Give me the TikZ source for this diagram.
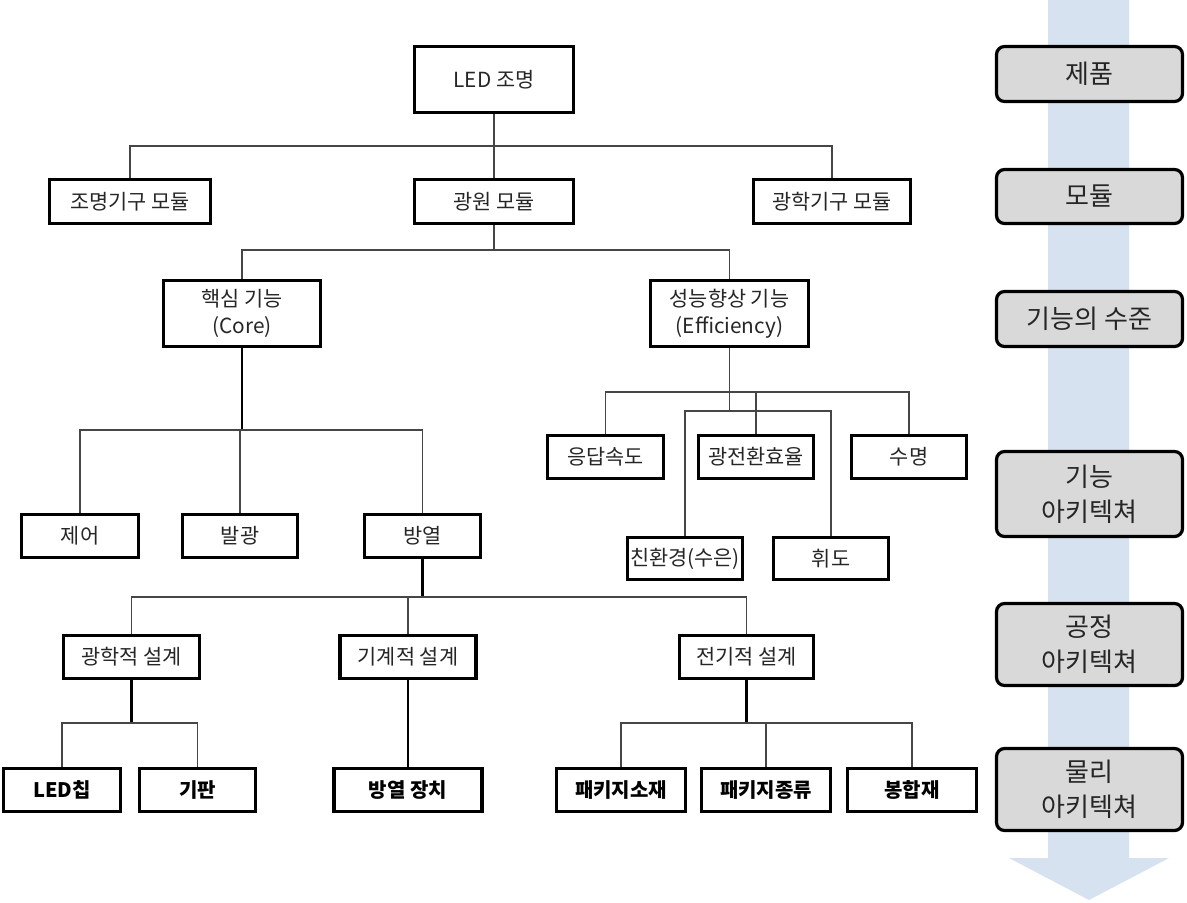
\documentclass[tikz,border=0pt]{standalone}
\usepackage{fontspec}
\newfontfamily\kr{Noto Sans CJK KR}
\definecolor{arrowblue}{RGB}{214,226,240}
\definecolor{boxgray}{RGB}{217,217,217}
\definecolor{linegray}{RGB}{70,70,70}
\begin{document}
\begin{tikzpicture}[x=0.5pt,y=-0.5pt,
  sz/.style 2 args={minimum width=#1*0.5pt-1.5pt, minimum height=#2*0.5pt-1.5pt},
  box/.style={draw=black, line width=1.7pt, fill=white, inner sep=0pt, align=center,
    text=black!85, font=\kr\fontsize{10.4}{13.5}\selectfont},
  bbox/.style={box, font=\kr\bfseries\fontsize{10}{12}\selectfont, text=black},
  side/.style={draw=black, line width=1.6pt, fill=boxgray, rounded corners=4pt, inner sep=0pt,
    align=center, text=black!85, font=\kr\fontsize{13}{17.5}\selectfont, sz={189}{#1}},
  conn/.style={draw=linegray, line width=0.75pt},
  tconn/.style={draw=black, line width=1.2pt}]
\useasboundingbox (0,0) rectangle (1187,902);

% background arrow
\fill[arrowblue] (1048,0) -- (1129,0) -- (1129,858) -- (1169,858) -- (1089,900)
  -- (1009,858) -- (1048,858) -- cycle;

% side labels
\node[side=58] (r1) at (1089.5,74) {제품};
\node[side=57] (r2) at (1089.5,196.5) {모듈};
\node[side=58] (r3) at (1089.5,319) {기능의 수준};
\node[side=88] (r4) at (1089.5,494) {기능\\아키텍쳐};
\node[side=85] (r5) at (1089.5,644.5) {공정\\아키텍쳐};
\node[side=85] (r6) at (1089.5,789.5) {물리\\아키텍쳐};

% junctions
\coordinate (j1) at (494,146);
\coordinate (j2) at (494,250);
\coordinate (j3) at (729.5,392);
\coordinate (j4) at (729.5,411);
\coordinate (j5) at (242,430);
\coordinate (j6) at (422.5,597);
\coordinate (j7) at (131.5,723);
\coordinate (j8) at (746.5,723);

% nodes
\node[box, sz={162}{69}] (led) at (494,79.5) {LED 조명};
\node[box, sz={164}{47}] (mod1) at (130,201.5) {조명기구 모듈};
\node[box, sz={162}{47}] (mod2) at (494,201.5) {광원 모듈};
\node[box, sz={160}{47}] (mod3) at (832,201.5) {광학기구 모듈};
\node[box, sz={160}{69}] (core) at (242,313.5) {핵심 기능\\(Core)};
\node[box, sz={161}{69}] (eff) at (729.5,313.5) {성능향상 기능\\(Efficiency)};
\node[box, sz={119}{46}] (f1) at (605.5,457) {응답속도};
\node[box, sz={118}{46}] (f2) at (756,457) {광전환효율};
\node[box, sz={118}{46}] (f3) at (909,457) {수명};
\node[box, sz={118}{45}] (f4) at (685,558.5) {친환경(수은)};
\node[box, sz={118}{45}] (f5) at (831,558.5) {휘도};
\node[box, sz={120}{46}] (c1) at (80,536) {제어};
\node[box, sz={118}{46}] (c2) at (240,536) {발광};
\node[box, sz={119}{46}] (c3) at (422.5,536) {방열};
\node[box, sz={139}{46}] (p1) at (131.5,657) {광학적 설계};
\node[box, sz={139}{46}] (p2) at (408,657) {기계적 설계};
\node[box, sz={137}{46}] (p3) at (746.5,657) {전기적 설계};
\node[bbox, sz={120}{46}] (b1) at (62,790) {LED칩};
\node[bbox, sz={119}{46}] (b2) at (197.5,790) {기판};
\node[bbox, sz={151}{46}] (b3) at (408,790) {방열 장치};
\node[bbox, sz={132}{46}] (b4) at (621,790) {패키지소재};
\node[bbox, sz={132}{46}] (b5) at (766,790) {패키지종류};
\node[bbox, sz={132}{46}] (b6) at (912,790) {봉합재};

% connectors
\draw[conn] (led.south) -- (mod2.north);
\draw[conn] (mod1.north) |- (j1) -| (mod3.north);
\draw[conn] (mod2.south) -- (j2);
\draw[conn] (core.north) |- (j2) -| (eff.north);

\draw[conn] (eff.south) -- (j4);
\draw[conn] (f1.north) |- (j3) -| (f3.north);
\draw[conn] (f2.north) -- (f2.north |- j3);
\draw[conn] (f4.north) |- (j4) -| (f5.north);

\draw[tconn] (core.south) -- (j5);
\draw[conn] (c1.north) |- (j5) -| (c3.north);
\draw[conn] (c2.north) -- (c2.north |- j5);

\draw[tconn] (c3.south) -- (j6);
\draw[conn] (p1.north) |- (j6) -| (p3.north);
\draw[conn] (p2.north) -- (p2.north |- j6);

\draw[tconn] (p1.south) -- (j7);
\draw[conn] (b1.north) |- (j7) -| (b2.north);
\draw[tconn] (p2.south) -- (b3.north);
\draw[tconn] (p3.south) -- (j8);
\draw[conn] (b4.north) |- (j8) -| (b6.north);
\draw[conn] (b5.north) -- (b5.north |- j8);
\end{tikzpicture}
\end{document}
